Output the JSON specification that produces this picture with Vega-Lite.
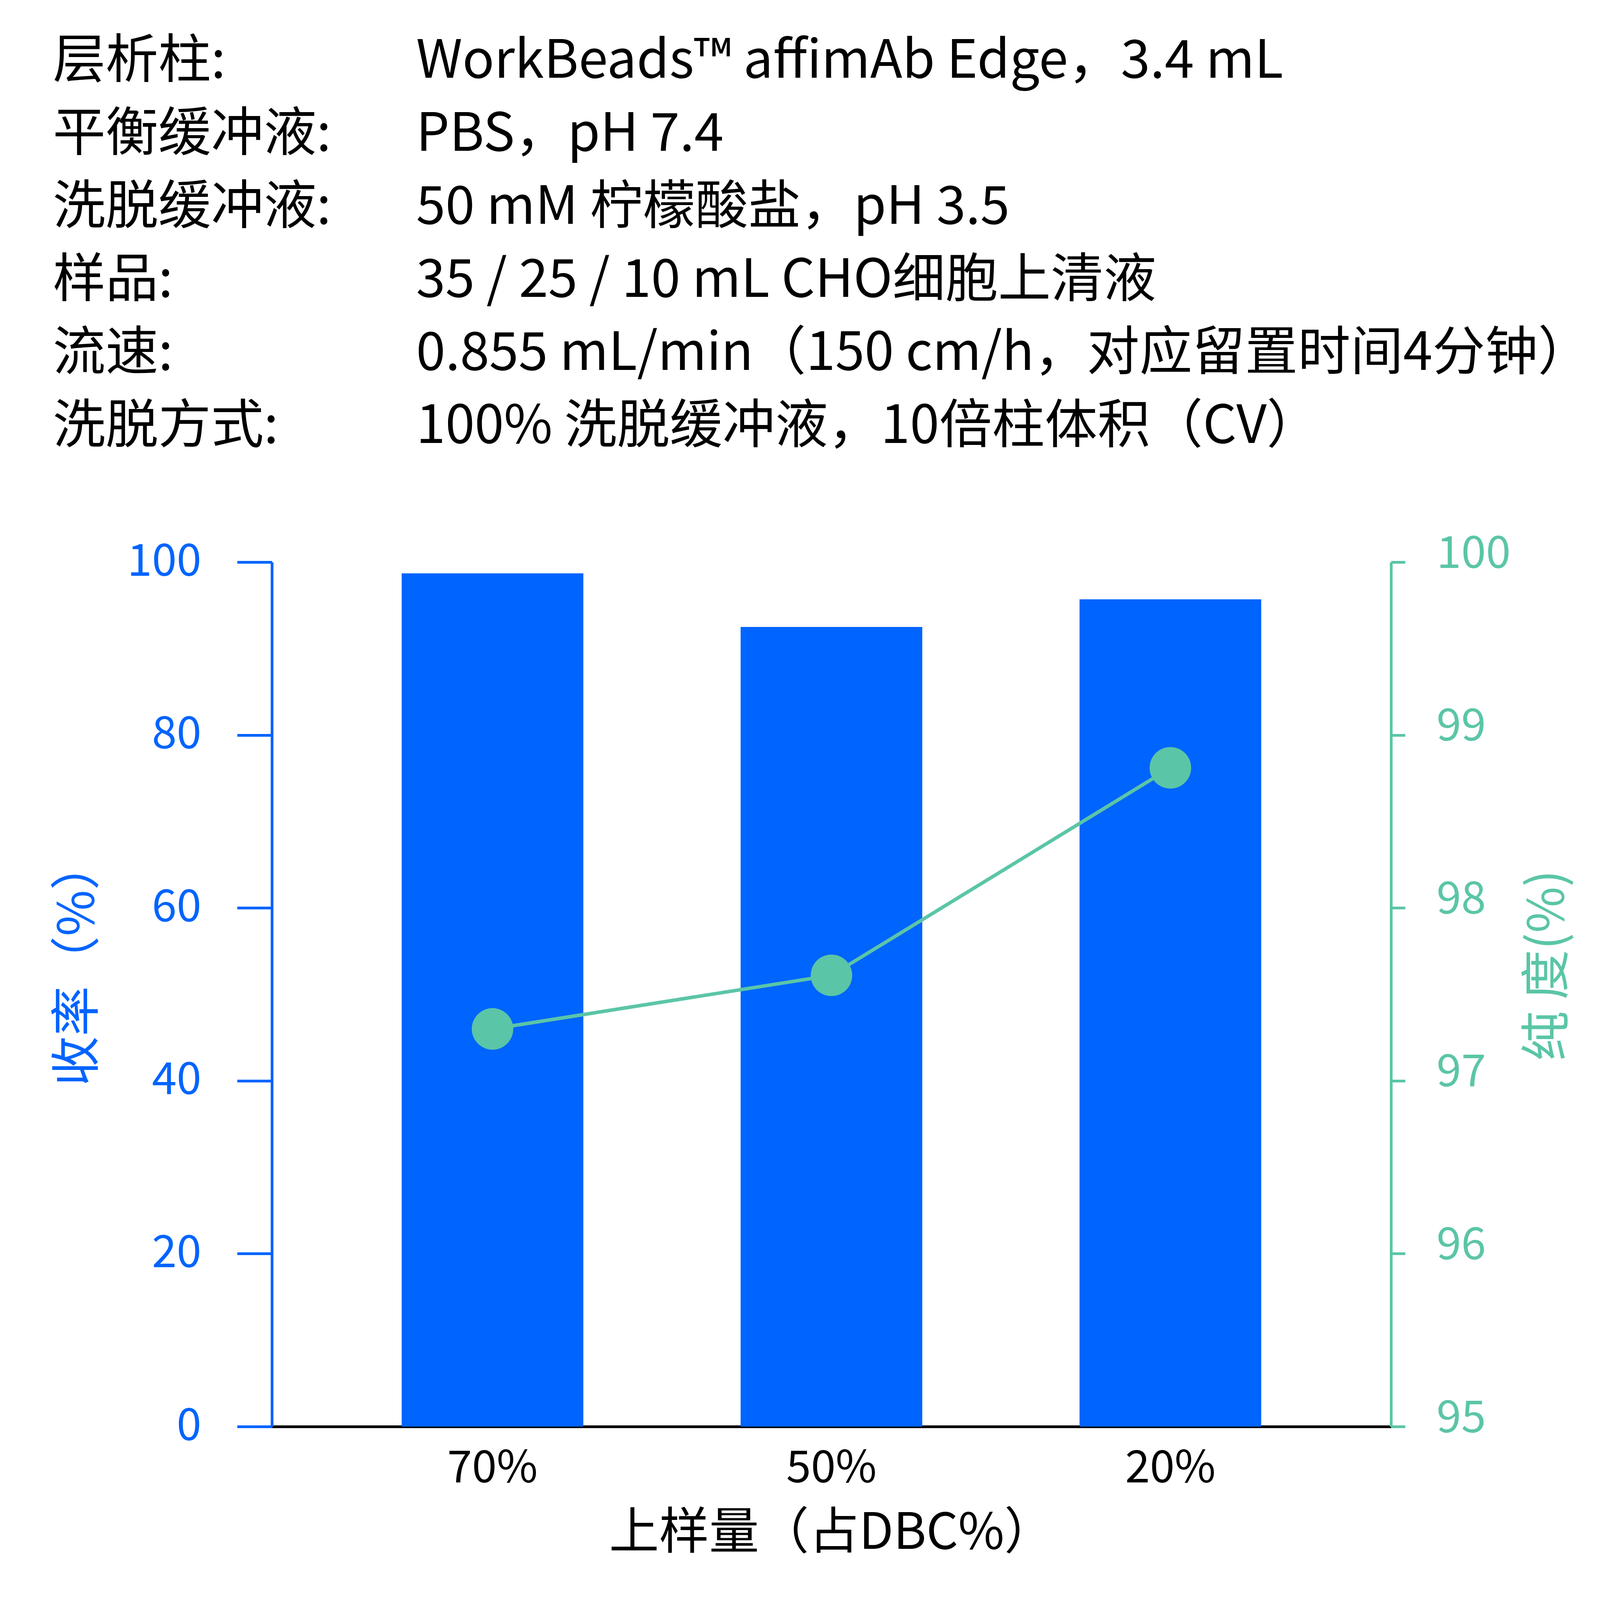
{
  "$schema": "https://vega.github.io/schema/vega-lite/v6.json",
  "padding": {"left": 135, "top": 91, "right": 0, "bottom": 0},
  "spacing": 201,
  "config": {
    "font": "Noto Sans CJK SC",
    "view": {"stroke": null},
    "axis": {"grid": false, "labelFont": "Noto Sans CJK SC", "titleFont": "Noto Sans CJK SC", "titleFontWeight": "normal", "labelLimit": 2000}
  },
  "vconcat": [
    {
      "width": 930,
      "height": 935,
      "data": {
        "values": [
          {"row": 1, "label": "层析柱:", "value": "WorkBeads™ affimAb Edge，3.4 mL"},
          {"row": 2, "label": "平衡缓冲液:", "value": "PBS，pH 7.4"},
          {"row": 3, "label": "洗脱缓冲液:", "value": "50 mM 柠檬酸盐，pH 3.5"},
          {"row": 4, "label": "样品:", "value": "35 / 25 / 10 mL CHO细胞上清液"},
          {"row": 5, "label": "流速:", "value": "0.855 mL/min（150 cm/h，对应留置时间4分钟）"},
          {"row": 6, "label": "洗脱方式:", "value": "100% 洗脱缓冲液，10倍柱体积（CV）"}
        ]
      },
      "encoding": {
        "y": {"field": "row", "type": "quantitative", "scale": {"domain": [1, 6], "reverse": true}, "axis": null}
      },
      "layer": [
        {
          "mark": {"type": "text", "align": "left", "baseline": "middle", "fontSize": 135, "color": "#000000"},
          "encoding": {
            "x": {"datum": 0, "type": "quantitative", "scale": {"domain": [0.603, 1.603]}, "axis": null},
            "text": {"field": "label"}
          }
        },
        {
          "mark": {"type": "text", "align": "left", "baseline": "middle", "fontSize": 135, "color": "#000000"},
          "encoding": {
            "x": {"datum": 1, "type": "quantitative", "scale": {"domain": [0.603, 1.603]}, "axis": null},
            "text": {"field": "value"}
          }
        }
      ]
    },
    {
      "width": 2865,
      "height": 2213,
      "data": {
        "values": [
          {"load": "70%", "recovery": 98.7, "purity": 97.3},
          {"load": "50%", "recovery": 92.5, "purity": 97.61},
          {"load": "20%", "recovery": 95.7, "purity": 98.81}
        ]
      },
      "encoding": {
        "x": {
          "field": "load",
          "type": "nominal",
          "sort": ["70%", "50%", "20%"],
          "scale": {"paddingInner": 0.464, "paddingOuter": 0.383},
          "axis": {
            "title": "上样量（占DBC%）",
            "titleFontSize": 128,
            "titleColor": "#000000",
            "titlePadding": 46,
            "labelAngle": 0,
            "labelFontSize": 114,
            "labelColor": "#000000",
            "labelPadding": 52,
            "ticks": false,
            "domainColor": "#000000",
            "domainWidth": 7
          }
        }
      },
      "layer": [
        {
          "mark": {"type": "bar", "color": "#0064FF"},
          "encoding": {
            "y": {
              "field": "recovery",
              "type": "quantitative",
              "scale": {"domain": [0, 100]},
              "axis": {
                "orient": "left",
                "values": [0, 20, 40, 60, 80, 100],
                "title": "收率（%）",
                "titleFontSize": 128,
                "titleColor": "#0064FF",
                "titlePadding": 73,
                "titleY": 1026,
                "minExtent": 357,
                "maxExtent": 357,
                "labelFontSize": 114,
                "labelColor": "#0064FF",
                "labelPadding": 92,
                "tickSize": 89,
                "tickWidth": 7,
                "tickColor": "#0064FF",
                "domainColor": "#0064FF",
                "domainWidth": 7
              }
            }
          }
        },
        {
          "mark": {"type": "line", "color": "#5BC5A7", "strokeWidth": 9},
          "encoding": {
            "y": {
              "field": "purity",
              "type": "quantitative",
              "scale": {"domain": [95, 100]},
              "axis": {
                "orient": "right",
                "values": [95, 96, 97, 98, 99, 100],
                "title": "纯 度(%)",
                "titleAngle": 270,
                "titleBaseline": "top",
                "titleFontSize": 128,
                "titleColor": "#5BC5A7",
                "titlePadding": 50,
                "titleY": 1032,
                "minExtent": 290,
                "maxExtent": 290,
                "labelFontSize": 114,
                "labelColor": "#5BC5A7",
                "labelPadding": 80,
                "labelOffset": -20,
                "tickSize": 36,
                "tickWidth": 7,
                "tickColor": "#5BC5A7",
                "domainColor": "#5BC5A7",
                "domainWidth": 7
              }
            }
          }
        },
        {
          "mark": {"type": "point", "filled": true, "opacity": 1, "color": "#5BC5A7", "size": 11300},
          "encoding": {
            "y": {"field": "purity", "type": "quantitative", "scale": {"domain": [95, 100]}, "axis": null}
          }
        }
      ],
      "resolve": {"scale": {"y": "independent"}}
    }
  ]
}
